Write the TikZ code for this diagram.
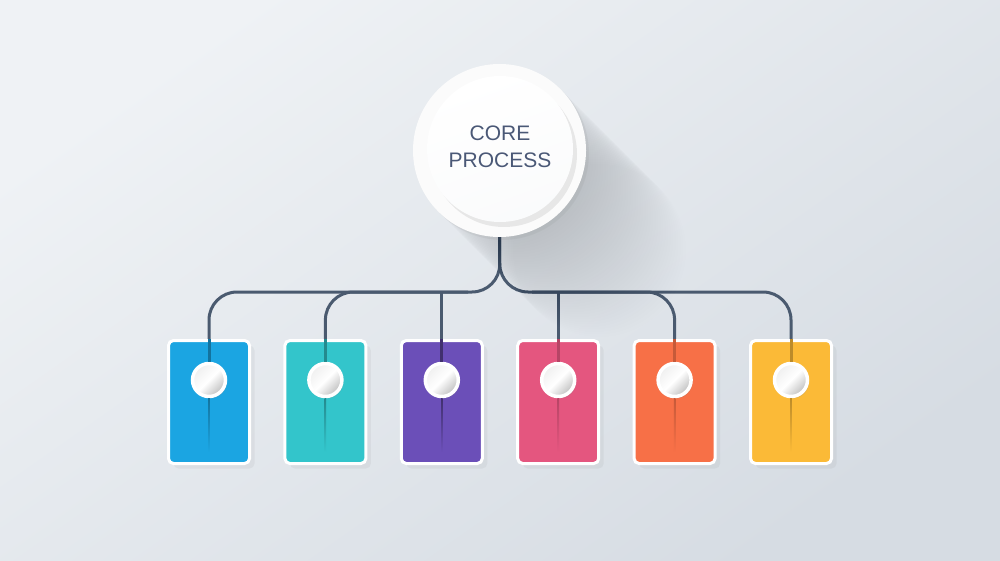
\documentclass[tikz,border=0pt]{standalone}
\usepackage{fontspec}
\setmainfont{Liberation Sans}
\usetikzlibrary{shadows}
\definecolor{bgtop}{HTML}{EFF2F5}
\definecolor{bgbot}{HTML}{D6DCE3}
\definecolor{linkcol}{HTML}{4A5A6F}
\definecolor{ink}{HTML}{4A5876}
\definecolor{cblue}{HTML}{1BA5E2}
\definecolor{cteal}{HTML}{33C5CB}
\definecolor{cpurple}{HTML}{6B4FB8}
\definecolor{cpink}{HTML}{E4567F}
\definecolor{corange}{HTML}{F77047}
\definecolor{cyellow}{HTML}{FBBA37}
\pgfdeclarelayer{bg}
\pgfdeclarelayer{back}
\pgfsetlayers{bg,back,main}
\begin{document}
\begin{tikzpicture}[x=1pt, y=-1pt,
  card/.style={draw=white, line width=3pt, rounded corners=5pt, minimum width=81pt, minimum height=123pt, inner sep=0pt,
    drop shadow={shadow xshift=5pt, shadow yshift=-5pt, opacity=0.09}},
  ball/.style={circle, draw=white, line width=3.5pt, minimum size=33pt, inner sep=0pt,
    top color=gray!12, bottom color=gray!50, middle color=white, shading angle=45,
    drop shadow={shadow xshift=1.5pt, shadow yshift=-2pt, opacity=0.2}},
  link/.style={draw=linkcol, line width=3pt},
  inlink/.style={line width=3pt}]
\useasboundingbox (0,0) rectangle (1000,561);
\begin{pgfonlayer}{bg}
\shade[top color=bgtop, bottom color=bgbot, shading angle=35] (0,0) rectangle (1000,561);
\end{pgfonlayer}
\foreach \s in {1,...,40}
  \fill[black, opacity=0.004] (499.5+2.5*\s,150.5+2.5*\s) circle (86.5);
\fill[white!97!gray, drop shadow={shadow xshift=3pt, shadow yshift=-3pt, opacity=0.10}] (499.5,150.5) circle (86.5);
\fill[black, opacity=0.08] (504,154) circle (73);
\shade[top color=white, bottom color=white!88!bgbot, shading angle=20] (500,149) circle (73);
\node[circle, minimum size=173pt, inner sep=0pt] (core) at (499.5,150.5) {};
\node[align=center, text=ink, font=\fontsize{21}{27}\selectfont] (title) at (500,146.5) {CORE\\PROCESS};
\node[card, fill=cblue] (c1) at (209,402) {};
\node[card, fill=cteal] (c2) at (325.4,402) {};
\node[card, fill=cpurple] (c3) at (441.8,402) {};
\node[card, fill=cpink] (c4) at (558.2,402) {};
\node[card, fill=corange] (c5) at (674.6,402) {};
\node[card, fill=cyellow] (c6) at (791,402) {};
\node[ball] (b1) at (209,380) {};
\node[ball] (b2) at (325.4,380) {};
\node[ball] (b3) at (441.8,380) {};
\node[ball] (b4) at (558.2,380) {};
\node[ball] (b5) at (674.6,380) {};
\node[ball] (b6) at (791,380) {};
\coordinate (split) at (500,292);
\coordinate (splitL) at (468,292);
\coordinate (splitR) at (532,292);
\begin{pgfonlayer}{back}
\draw[link, rounded corners=28pt] (core.south) -- (split) -| (b1.north);
\draw[link, rounded corners=28pt] (core.south) -- (split) -| (b6.north);
\draw[link, rounded corners=28pt] (b2.north) |- (splitL);
\draw[link, rounded corners=28pt] (b5.north) |- (splitR);
\draw[link] (b3.north) -- (b3.north |- split);
\draw[link] (b4.north) -- (b4.north |- split);
\end{pgfonlayer}
\draw[inlink, draw=cblue!70!black] (c1.north) -- (b1.north);
\draw[inlink, draw=cteal!70!black] (c2.north) -- (b2.north);
\draw[inlink, draw=cpurple!60!black] (c3.north) -- (b3.north);
\draw[inlink, draw=cpink!80!black] (c4.north) -- (b4.north);
\draw[inlink, draw=corange!80!black] (c5.north) -- (b5.north);
\draw[inlink, draw=cyellow!75!black] (c6.north) -- (b6.north);
\shade[top color=cblue!70!black, bottom color=cblue] ([xshift=-0.8pt]b1.south) rectangle ++(1.6,54);
\shade[top color=cteal!70!black, bottom color=cteal] ([xshift=-0.8pt]b2.south) rectangle ++(1.6,54);
\shade[top color=cpurple!60!black, bottom color=cpurple] ([xshift=-0.8pt]b3.south) rectangle ++(1.6,54);
\shade[top color=cpink!80!black, bottom color=cpink] ([xshift=-0.8pt]b4.south) rectangle ++(1.6,54);
\shade[top color=corange!80!black, bottom color=corange] ([xshift=-0.8pt]b5.south) rectangle ++(1.6,54);
\shade[top color=cyellow!75!black, bottom color=cyellow] ([xshift=-0.8pt]b6.south) rectangle ++(1.6,54);
\end{tikzpicture}
\end{document}
